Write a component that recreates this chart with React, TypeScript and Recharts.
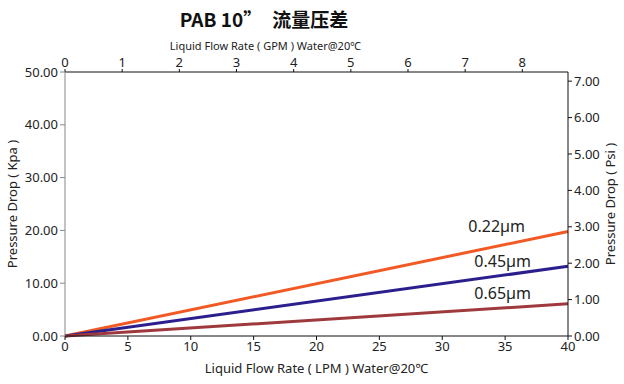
import { LineChart, Line, XAxis, YAxis } from "recharts"

const lpm = [0, 40]
const kpa022 = [0, 19.8]
const kpa045 = [0, 13.2]
const kpa065 = [0, 6.1]

const lpmTicks = [0, 5, 10, 15, 20, 25, 30, 35, 40]
const gpmTicks = [0, 1, 2, 3, 4, 5, 6, 7, 8]
const kpaTicks = [0, 10, 20, 30, 40, 50]
const psiTicks = [0, 1, 2, 3, 4, 5, 6, 7]

const seriesNames = ["0.22µm", "0.45µm", "0.65µm"]

// litres per (imperial) gallon, for the top GPM axis
const litresPerGallon = 4.546

const data = lpm.map((x, i) => ({ lpm: x, gpm: x / litresPerGallon, a: kpa022[i], b: kpa045[i], c: kpa065[i] }))

const font = "'Noto Sans', 'Open Sans', sans-serif"
const textColor = "#222"

function endLabel(text: string, dx: number, dy: number) {
  return (props: any) => {
    if (props.index !== data.length - 1) return null
    return (
      <text x={props.x + dx} y={props.y + dy} textAnchor="end" fontSize={16} fill={textColor} fontFamily={font}>
        {text}
      </text>
    )
  }
}

export default function App() {
  return (
    <div style={{ position: "absolute", left: 0, top: 0, width: 624, height: 384, background: "#fff" }}>
      <div
        style={{
          position: "absolute",
          left: 0,
          width: 528,
          top: 5,
          textAlign: "center",
          fontSize: 19,
          fontWeight: 700,
          color: "#111",
          fontFamily: "'Noto Sans CJK SC', sans-serif",
        }}
      >
        PAB 10”<span style={{ marginLeft: 10 }}>流量压差</span>
      </div>
      <LineChart width={624} height={384} data={data} margin={{ top: 36, right: 0, bottom: 0, left: 0 }}>
        <XAxis
          dataKey="lpm"
          type="number"
          domain={[0, 40]}
          ticks={lpmTicks}
          height={48}
          tickSize={4}
          stroke="#111"
          tick={{ fontSize: 13, fill: textColor, fontFamily: font }}
          label={{ value: "Liquid Flow Rate ( LPM ) Water@20℃", position: "insideBottom", offset: 11, fontSize: 13, fill: textColor, fontFamily: font }}
        />
        <XAxis
          xAxisId="gpm"
          dataKey="gpm"
          orientation="top"
          type="number"
          domain={[0, 40 / litresPerGallon]}
          allowDataOverflow
          ticks={gpmTicks}
          height={36}
          tickSize={3}
          stroke="#111"
          tick={{ fontSize: 13, fill: textColor, fontFamily: font }}
          label={{ value: "Liquid Flow Rate ( GPM ) Water@20℃", position: "insideTop", offset: 6, dx: -51, fontSize: 11, fill: textColor, fontFamily: font }}
        />
        <YAxis
          yAxisId="kpa"
          type="number"
          domain={[0, 50]}
          ticks={kpaTicks}
          width={65}
          tickSize={5}
          stroke="#888"
          tickFormatter={(v: number) => v.toFixed(2)}
          tick={{ fontSize: 13, fill: textColor, fontFamily: font }}
          label={{ value: "Pressure Drop ( Kpa )", angle: -90, position: "center", dx: -20, textAnchor: "middle", fontSize: 13, fill: textColor, fontFamily: font }}
        />
        <YAxis
          yAxisId="psi"
          orientation="right"
          type="number"
          domain={[0, 50 / 6.895]}
          allowDataOverflow
          ticks={psiTicks}
          width={56}
          tickSize={4}
          stroke="#111"
          tickFormatter={(v: number) => v.toFixed(2)}
          tick={{ fontSize: 13, fill: textColor, fontFamily: font }}
          label={{ value: "Pressure Drop ( Psi )", angle: -90, position: "center", dx: 14, textAnchor: "middle", fontSize: 13, fill: textColor, fontFamily: font }}
        />
        <Line yAxisId="kpa" dataKey="a" stroke="#F15A24" strokeWidth={3} dot={false} isAnimationActive={false} label={endLabel(seriesNames[0], -43, 1)} />
        <Line yAxisId="kpa" dataKey="b" stroke="#2B1F8E" strokeWidth={3} dot={false} isAnimationActive={false} label={endLabel(seriesNames[1], -37, 1)} />
        <Line yAxisId="kpa" dataKey="c" stroke="#9E3A3E" strokeWidth={3} dot={false} isAnimationActive={false} label={endLabel(seriesNames[2], -37, -5)} />
      </LineChart>
    </div>
  )
}
